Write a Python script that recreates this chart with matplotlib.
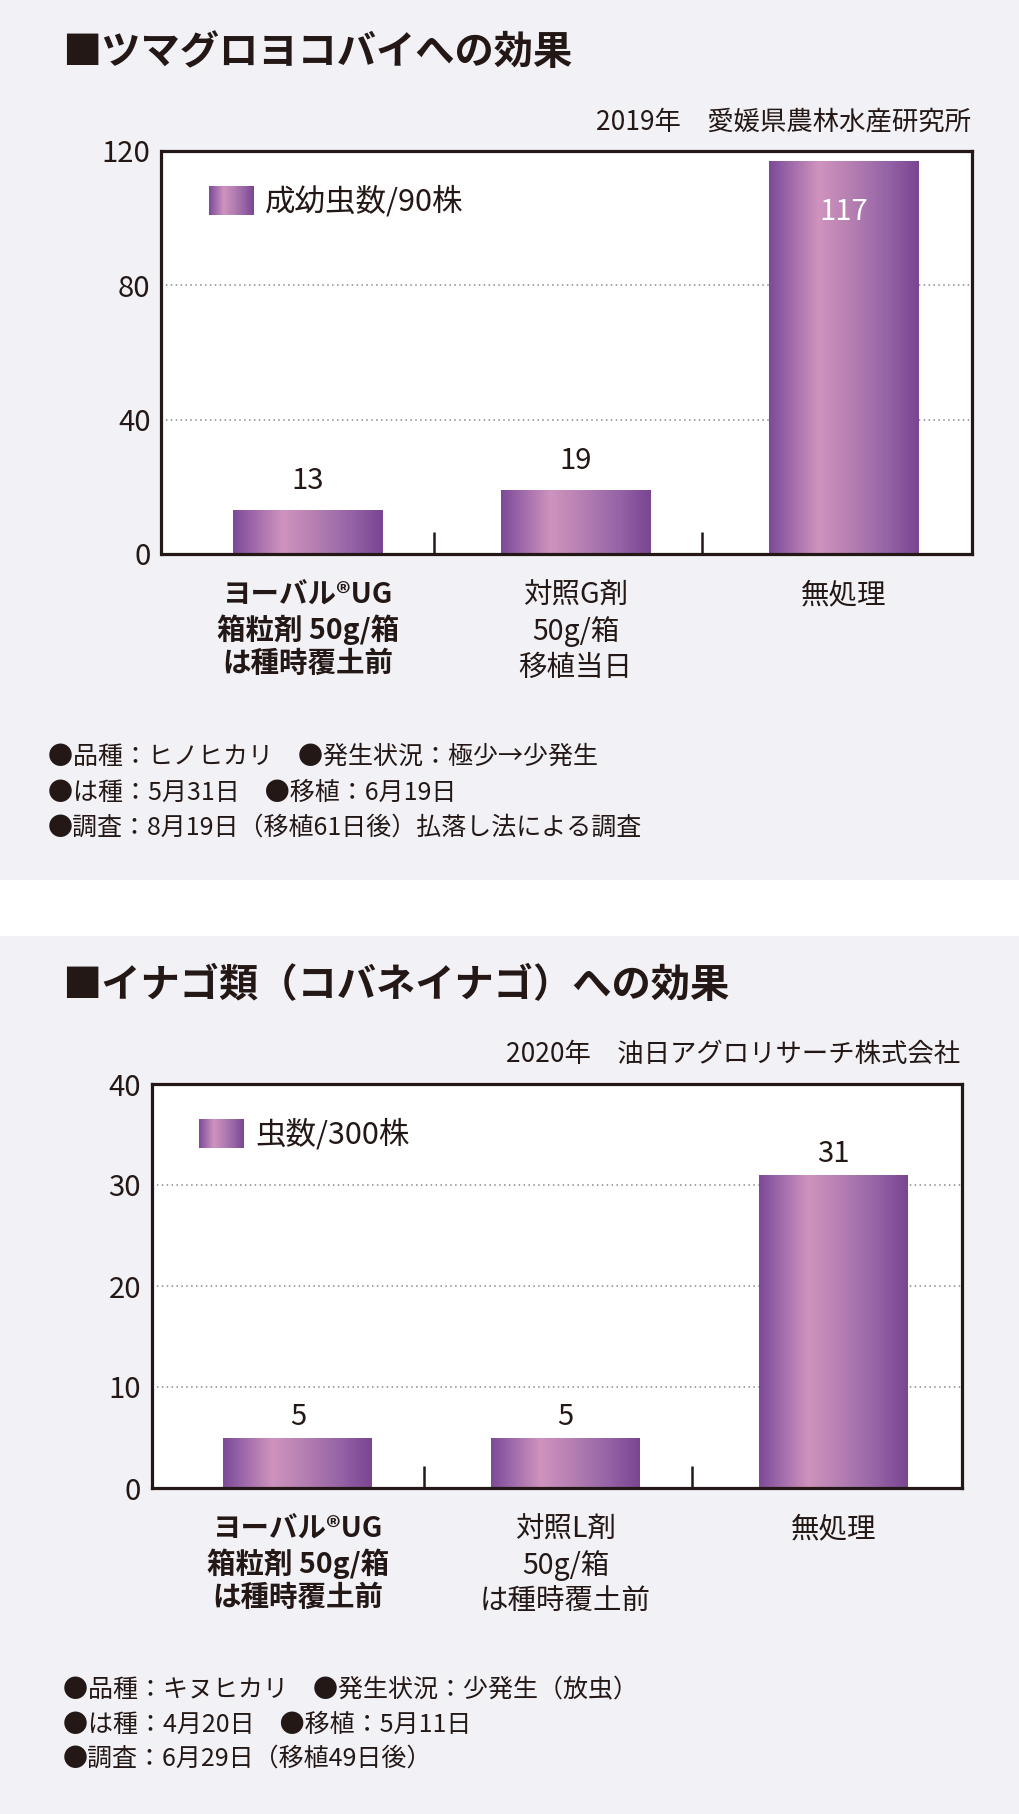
import numpy as np
import matplotlib
matplotlib.use('Agg')
import matplotlib.pyplot as plt
from matplotlib.colors import LinearSegmentedColormap
from matplotlib.patches import Rectangle

plt.rcParams['font.family'] = ['Noto Sans CJK JP', 'DejaVu Sans']

# --- data: chart 1 (leafhopper) ---
title1 = '■ツマグロヨコバイへの効果'
source1 = '2019年　愛媛県農林水産研究所'
legend1 = '成幼虫数/90株'
cats1 = ['ヨーバル®UG\n箱粒剤 50g/箱\nは種時覆土前', '対照G剤\n50g/箱\n移植当日', '無処理']
vals1 = [13, 19, 117]
yticks1 = [0, 40, 80, 120]
notes1 = ['●品種：ヒノヒカリ　●発生状況：極少→少発生',
          '●は種：5月31日　●移植：6月19日',
          '●調査：8月19日（移植61日後）払落し法による調査']

# --- data: chart 2 (grasshopper) ---
title2 = '■イナゴ類（コバネイナゴ）への効果'
source2 = '2020年　油日アグロリサーチ株式会社'
legend2 = '虫数/300株'
cats2 = ['ヨーバル®UG\n箱粒剤 50g/箱\nは種時覆土前', '対照L剤\n50g/箱\nは種時覆土前', '無処理']
vals2 = [5, 5, 31]
yticks2 = [0, 10, 20, 30, 40]
notes2 = ['●品種：キヌヒカリ　●発生状況：少発生（放虫）',
          '●は種：4月20日　●移植：5月11日',
          '●調査：6月29日（移植49日後）']

INK = '#231815'
BG = '#f2f1f6'
bar_cmap = LinearSegmentedColormap.from_list('bar', [
    (0.0, '#7c4a98'), (0.12, '#9a65a8'), (0.33, '#cf93be'),
    (0.55, '#b57fb2'), (0.8, '#9462a6'), (1.0, '#7a4592')])
GRAD = np.linspace(0, 1, 256).reshape(1, -1)

W, H = 1020, 1814
fig = plt.figure(figsize=(W / 100, H / 100), dpi=100)
fig.patch.set_facecolor(BG)
# white band between the two panels
fig.patches.append(Rectangle((0, 1 - 935 / H), 1, (935 - 880) / H,
                             transform=fig.transFigure, color='white', zorder=0))


def px_axes(l, t, r, b):
    return fig.add_axes([l / W, 1 - b / H, (r - l) / W, (b - t) / H])


def draw_chart(ax, vals, cats, yticks, legend, inside_top, label_off):
    x = np.arange(len(vals))
    ax.set_facecolor('white')
    bars = ax.bar(x, vals, 0.556, color='none', edgecolor='none', zorder=3)
    for b in bars:
        im = ax.imshow(GRAD, cmap=bar_cmap, aspect='auto', interpolation='bicubic',
                       extent=[b.get_x(), b.get_x() + b.get_width(), 0, b.get_height()],
                       zorder=3)
        im.set_clip_path(b)
    for i, v in enumerate(vals):
        if inside_top and v == max(vals):
            ax.annotate(str(v), (x[i], v), xytext=(0, -37), textcoords='offset points',
                        ha='center', va='center', fontsize=21, color='white', zorder=5)
        else:
            ax.annotate(str(v), (x[i], v), xytext=(0, label_off), textcoords='offset points',
                        ha='center', va='center', fontsize=21, color=INK, zorder=5)

    # legend swatch + text
    ax.imshow(GRAD, cmap=bar_cmap, aspect='auto', interpolation='bicubic',
              extent=[0.058, 0.113, 0.841, 0.912], transform=ax.transAxes, zorder=4)
    ax.text(0.128, 0.874, legend, transform=ax.transAxes, ha='left', va='center',
            fontsize=22, color=INK)

    ax.set_xlim(-0.545, 2.48)
    ax.set_ylim(yticks[0], yticks[-1])
    ax.set_yticks(yticks)
    ax.set_yticklabels([str(t) for t in yticks], fontsize=21, color=INK)
    ax.tick_params(axis='y', length=0, pad=8)
    ax.yaxis.grid(True, color='#8a8a8a', linestyle=(0, (1, 2.2)), linewidth=1.1)
    ax.set_axisbelow(True)

    ax.set_xticks(x)
    ax.set_xticklabels(cats, fontsize=20.5, color=INK, linespacing=1.24)
    ax.get_xticklabels()[0].set_fontweight('bold')
    ax.tick_params(axis='x', which='major', length=0, pad=19)
    ax.set_xticks([0.47, 1.47], minor=True)
    ax.tick_params(axis='x', which='minor', direction='in', length=16,
                   width=1.8, color=INK)
    for s in ax.spines.values():
        s.set_linewidth(2.3)
        s.set_color(INK)
        s.set_zorder(6)


ax1 = px_axes(161.5, 151, 972.5, 554)
draw_chart(ax1, vals1, cats1, yticks1, legend1, True, 21)
ax2 = px_axes(152, 1084, 962, 1488)
draw_chart(ax2, vals2, cats2, yticks2, legend2, False, 15)

fig.text(62 / W, 1 - 53 / H, title1, fontsize=28.3, fontweight='bold', color=INK,
         ha='left', va='center')
fig.text(971 / W, 1 - 122 / H, source1, fontsize=19, color=INK, ha='right', va='center')
for k, line in enumerate(notes1):
    fig.text(48 / W, 1 - (757 + 35.5 * k) / H, line, fontsize=18, color=INK,
             ha='left', va='center')

fig.text(62 / W, 1 - 986 / H, title2, fontsize=28.3, fontweight='bold', color=INK,
         ha='left', va='center')
fig.text(960 / W, 1 - 1055 / H, source2, fontsize=19, color=INK, ha='right', va='center')
for k, line in enumerate(notes2):
    fig.text(63 / W, 1 - (1690 + 34.5 * k) / H, line, fontsize=18, color=INK,
             ha='left', va='center')

fig.savefig('out.png', dpi=100, facecolor=fig.get_facecolor())
